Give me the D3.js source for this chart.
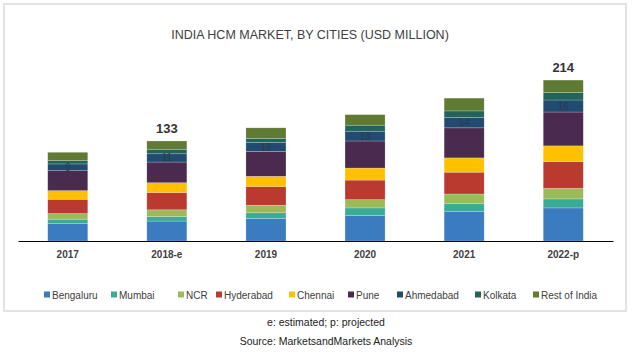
<!DOCTYPE html>
<html>
<head>
<meta charset="utf-8">
<title>India HCM Market</title>
<script src="https://d3js.org/d3.v7.min.js"></script>
<style>
  body { margin: 0; background: #fff; }
  svg text { font-family: "Liberation Sans", Arial, sans-serif; }
</style>
</head>
<body>
<div id="chart"></div>
<script>
// data
var years = ["2017", "2018-e", "2019", "2020", "2021", "2022-p"];
var cities = ["Bengaluru", "Mumbai", "NCR", "Hyderabad", "Chennai", "Pune", "Ahmedabad", "Kolkata", "Rest of India"];
var bengaluru = [23, 26.5, 30, 34, 39, 44];
var mumbai    = [6, 6, 7.5, 10, 10.5, 12];
var ncr       = [7.5, 9, 10, 11, 13, 14];
var hyderabad = [19, 23, 25, 26, 29, 35.5];
var chennai   = [11.5, 13, 13.5, 16, 19, 21];
var pune      = [26.5, 27.5, 33, 36, 40, 45];
var ahmedabad = [9, 11, 12, 13, 14, 16];
var kolkata   = [4.5, 6, 5.5, 8, 8.5, 10];
var restIndia = [11, 11, 14, 14, 17, 16.5];
var totalLabels = ["", "133", "", "", "", "214"];
var colors = ["#3b7bbf", "#3aab95", "#9bbb59", "#bb3a30", "#ffc000", "#4b2a50", "#214b70", "#22645a", "#607a33"];

var series = [bengaluru, mumbai, ncr, hyderabad, chennai, pune, ahmedabad, kolkata, restIndia];

var W = 632, H = 352;
var svg = d3.select("#chart").append("svg")
  .attr("width", W).attr("height", H);

// frame
svg.append("rect")
  .attr("x", 4).attr("y", 4).attr("width", 622).attr("height", 307)
  .attr("fill", "#fff").attr("stroke", "#e3e3e3").attr("stroke-width", 2);

svg.append("text")
  .attr("x", 310).attr("y", 39)
  .attr("text-anchor", "middle")
  .attr("font-size", 12.5)
  .attr("fill", "#404040")
  .text("INDIA HCM MARKET, BY CITIES (USD MILLION)");

var table = years.map(function(y, i) {
  var row = {year: y};
  cities.forEach(function(c, j) { row[c] = series[j][i]; });
  return row;
});

var stack = d3.stack().keys(cities)(table);

var x = d3.scaleBand().domain(years).range([18, 613]).paddingInner(0.596).paddingOuter(0.3);
var y = d3.scaleLinear().domain([0, 250]).range([241, 53]);
var color = d3.scaleOrdinal().domain(cities).range(colors);

svg.append("g").selectAll("g")
  .data(stack)
  .join("g")
    .attr("fill", function(d) { return color(d.key); })
  .selectAll("rect")
  .data(function(d) { return d; })
  .join("rect")
    .attr("x", function(d) { return x(d.data.year); })
    .attr("y", function(d) { return y(d[1]); })
    .attr("width", x.bandwidth())
    .attr("height", function(d) { return y(d[0]) - y(d[1]); })
    .attr("stroke", "#ffffff")
    .attr("stroke-opacity", 0.35)
    .attr("stroke-width", 0.6);

// faint labels in the Ahmedabad segment
var ahm = stack[cities.indexOf("Ahmedabad")];
svg.append("g").selectAll("text")
  .data(ahm)
  .join("text")
    .attr("x", function(d) { return x(d.data.year) + x.bandwidth() / 2; })
    .attr("y", function(d) { return (y(d[0]) + y(d[1])) / 2 + 3.5; })
    .attr("text-anchor", "middle")
    .attr("font-size", 10)
    .attr("fill", "#2a3b4f")
    .text(function(d) { return d.data["Ahmedabad"]; });

// totals
var topLayer = stack[stack.length - 1];
svg.append("g").selectAll("text")
  .data(topLayer)
  .join("text")
    .attr("x", function(d) { return x(d.data.year) + x.bandwidth() / 2; })
    .attr("y", function(d) { return y(d[1]) - 8; })
    .attr("text-anchor", "middle")
    .attr("font-size", 13)
    .attr("font-weight", "bold")
    .attr("fill", "#333")
    .text(function(d, i) { return totalLabels[i]; });

// axis
var axis = svg.append("g")
  .attr("transform", "translate(0,241)")
  .call(d3.axisBottom(x).tickSize(0).tickPadding(10));
axis.select(".domain").attr("stroke", "#000").attr("stroke-width", 1.2);
axis.selectAll("text")
  .attr("font-family", "Liberation Sans, Arial, sans-serif")
  .attr("font-size", 10)
  .attr("font-weight", "bold")
  .attr("fill", "#404040");

// legend
var legendX = [44, 111, 178, 216, 289, 348, 397, 475, 533];
var legend = svg.append("g").selectAll("g")
  .data(cities)
  .join("g")
    .attr("transform", function(d, i) { return "translate(" + legendX[i] + ",295)"; });
legend.append("rect")
  .attr("x", 0).attr("y", -3.5).attr("width", 6).attr("height", 6)
  .attr("fill", function(d) { return color(d); });
legend.append("text")
  .attr("x", 8).attr("y", 3.5)
  .attr("font-size", 10)
  .attr("fill", "#404040")
  .text(function(d) { return d; });

svg.append("text")
  .attr("x", 326).attr("y", 326)
  .attr("text-anchor", "middle")
  .attr("font-size", 10.5)
  .attr("fill", "#222")
  .text("e: estimated; p: projected");
svg.append("text")
  .attr("x", 326).attr("y", 345)
  .attr("text-anchor", "middle")
  .attr("font-size", 10.5)
  .attr("fill", "#222")
  .text("Source: MarketsandMarkets Analysis");
</script>
</body>
</html>
